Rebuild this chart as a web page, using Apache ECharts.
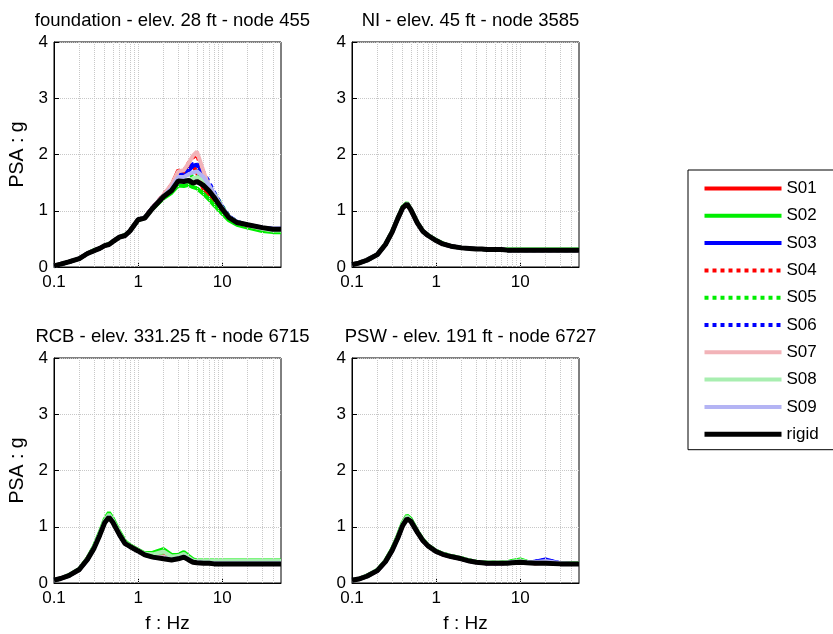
<!DOCTYPE html>
<html>
<head>
<meta charset="utf-8">
<script src="https://cdn.jsdelivr.net/npm/echarts@6/dist/echarts.min.js"></script>
<style>html,body{margin:0;padding:0;background:#fff}#c{width:833px;height:634px}</style>
</head>
<body>
<div id="c"></div>
<script>
// ---- data ----
const freqs = [0.1,0.12,0.15,0.2,0.25,0.3,0.35,0.4,0.45,0.5,0.6,0.7,0.8,1,1.2,1.5,2,2.5,3,3.5,4,4.5,5,6,7,8,10,12,15,20,30,40,50];
const gridFreqs = [0.2,0.3,0.4,0.5,0.6,0.7,0.8,0.9,1,2,3,4,5,6,7,8,9,10,20,30,40];
const seriesNames = ['S01','S02','S03','S04','S05','S06','S07','S08','S09','rigid'];
const panelTitles = ['foundation - elev. 28 ft - node 455','NI - elev. 45 ft - node 3585','RCB - elev. 331.25 ft - node 6715','PSW - elev. 191 ft - node 6727'];
const yTicks = [0,1,2,3,4];
const xTickLabels = ['0.1','1','10'];

// foundation
const fnd_S01 = [0.02,0.05,0.09,0.15,0.24,0.29,0.33,0.38,0.40,0.45,0.53,0.56,0.64,0.84,0.88,1.06,1.27,1.45,1.72,1.68,1.78,1.80,1.68,1.38,1.25,1.15,0.98,0.86,0.78,0.73,0.68,0.65,0.65];
const fnd_S02 = [0.02,0.05,0.09,0.15,0.24,0.30,0.33,0.38,0.41,0.45,0.53,0.57,0.64,0.83,0.88,1.04,1.22,1.32,1.45,1.44,1.46,1.42,1.40,1.30,1.20,1.10,0.95,0.83,0.75,0.70,0.64,0.62,0.62];
const fnd_S03 = [0.02,0.05,0.09,0.15,0.24,0.29,0.33,0.38,0.40,0.45,0.53,0.56,0.64,0.84,0.88,1.06,1.27,1.42,1.62,1.65,1.72,1.80,1.82,1.62,1.45,1.30,1.06,0.90,0.80,0.75,0.70,0.68,0.68];
const fnd_S04 = [0.02,0.05,0.09,0.15,0.24,0.29,0.33,0.38,0.40,0.45,0.53,0.56,0.64,0.84,0.88,1.06,1.28,1.46,1.70,1.70,1.85,1.95,2.00,1.65,1.40,1.25,1.02,0.88,0.79,0.74,0.69,0.66,0.66];
const fnd_S05 = [0.02,0.05,0.09,0.15,0.24,0.29,0.33,0.38,0.40,0.45,0.53,0.56,0.64,0.84,0.88,1.05,1.26,1.40,1.55,1.58,1.62,1.65,1.62,1.55,1.45,1.32,1.08,0.90,0.80,0.75,0.69,0.66,0.66];
const fnd_S06 = [0.02,0.05,0.09,0.15,0.24,0.29,0.33,0.38,0.40,0.45,0.53,0.56,0.64,0.84,0.88,1.06,1.27,1.43,1.65,1.66,1.75,1.83,1.84,1.68,1.50,1.33,1.07,0.90,0.80,0.75,0.70,0.67,0.67];
const fnd_S07 = [0.02,0.05,0.09,0.15,0.24,0.29,0.33,0.38,0.40,0.45,0.53,0.56,0.64,0.84,0.88,1.06,1.28,1.47,1.70,1.72,1.85,1.98,2.05,1.70,1.42,1.26,1.03,0.88,0.79,0.74,0.69,0.66,0.66];
const fnd_S08 = [0.02,0.05,0.09,0.15,0.24,0.29,0.33,0.38,0.40,0.45,0.53,0.56,0.64,0.84,0.88,1.05,1.25,1.38,1.55,1.53,1.55,1.57,1.60,1.55,1.42,1.30,1.05,0.89,0.79,0.74,0.68,0.65,0.65];
const fnd_S09 = [0.02,0.05,0.09,0.15,0.24,0.29,0.33,0.38,0.40,0.45,0.53,0.56,0.64,0.84,0.88,1.05,1.26,1.40,1.60,1.60,1.65,1.68,1.70,1.60,1.45,1.30,1.05,0.89,0.80,0.75,0.70,0.67,0.67];
const fnd_rigid = [0.02,0.05,0.09,0.15,0.24,0.29,0.33,0.38,0.40,0.45,0.53,0.56,0.64,0.84,0.87,1.05,1.25,1.36,1.53,1.52,1.54,1.49,1.52,1.45,1.35,1.24,1.03,0.88,0.79,0.75,0.70,0.67,0.67];

// NI
const ni_S01 = [0.04,0.07,0.12,0.22,0.40,0.62,0.86,1.05,1.12,1.02,0.78,0.63,0.56,0.47,0.41,0.37,0.34,0.33,0.32,0.32,0.31,0.31,0.31,0.31,0.30,0.30,0.30,0.30,0.30,0.30,0.30,0.30,0.30];
const ni_S02 = [0.04,0.07,0.12,0.22,0.41,0.63,0.87,1.07,1.14,1.03,0.79,0.64,0.57,0.48,0.42,0.37,0.34,0.33,0.32,0.32,0.31,0.31,0.31,0.31,0.31,0.31,0.31,0.31,0.31,0.31,0.31,0.31,0.31];
const ni_S03 = [0.04,0.07,0.12,0.22,0.40,0.62,0.86,1.05,1.12,1.02,0.78,0.63,0.56,0.47,0.41,0.37,0.34,0.33,0.32,0.32,0.31,0.31,0.31,0.31,0.30,0.30,0.30,0.30,0.30,0.30,0.30,0.30,0.30];
const ni_S04 = [0.04,0.07,0.12,0.22,0.40,0.62,0.86,1.05,1.12,1.02,0.78,0.63,0.56,0.47,0.41,0.37,0.34,0.33,0.32,0.32,0.31,0.31,0.31,0.31,0.30,0.30,0.30,0.30,0.30,0.30,0.30,0.30,0.30];
const ni_S05 = [0.04,0.07,0.12,0.22,0.40,0.62,0.86,1.06,1.13,1.02,0.78,0.63,0.56,0.47,0.41,0.37,0.34,0.33,0.32,0.32,0.31,0.31,0.31,0.31,0.30,0.30,0.30,0.30,0.30,0.30,0.30,0.30,0.30];
const ni_S06 = [0.04,0.07,0.12,0.22,0.40,0.62,0.86,1.05,1.12,1.02,0.78,0.63,0.56,0.47,0.41,0.37,0.34,0.33,0.32,0.32,0.31,0.31,0.31,0.31,0.30,0.30,0.30,0.30,0.30,0.30,0.30,0.30,0.30];
const ni_S07 = [0.04,0.07,0.12,0.22,0.40,0.62,0.86,1.05,1.12,1.02,0.78,0.63,0.56,0.47,0.41,0.37,0.34,0.33,0.32,0.32,0.31,0.31,0.31,0.31,0.30,0.30,0.30,0.30,0.30,0.30,0.30,0.30,0.30];
const ni_S08 = [0.04,0.07,0.12,0.22,0.40,0.62,0.87,1.06,1.13,1.03,0.79,0.63,0.56,0.47,0.41,0.37,0.34,0.33,0.32,0.32,0.31,0.31,0.31,0.31,0.30,0.30,0.30,0.30,0.30,0.30,0.30,0.30,0.30];
const ni_S09 = [0.04,0.07,0.12,0.22,0.40,0.62,0.86,1.05,1.12,1.02,0.78,0.63,0.56,0.47,0.41,0.37,0.34,0.33,0.32,0.32,0.31,0.31,0.31,0.31,0.30,0.30,0.30,0.30,0.30,0.30,0.30,0.30,0.30];
const ni_rigid = [0.04,0.07,0.12,0.22,0.40,0.62,0.86,1.05,1.12,1.02,0.78,0.63,0.56,0.47,0.41,0.37,0.34,0.33,0.32,0.32,0.31,0.31,0.31,0.31,0.30,0.30,0.30,0.30,0.30,0.30,0.30,0.30,0.30];

// RCB
const rcb_S01 = [0.05,0.08,0.13,0.24,0.43,0.64,0.87,1.09,1.19,1.10,0.87,0.71,0.66,0.58,0.51,0.48,0.52,0.44,0.46,0.50,0.44,0.39,0.38,0.37,0.37,0.37,0.37,0.37,0.37,0.37,0.37,0.37,0.37];
const rcb_S02 = [0.05,0.08,0.14,0.25,0.44,0.66,0.90,1.13,1.25,1.15,0.91,0.74,0.67,0.59,0.53,0.54,0.60,0.50,0.50,0.55,0.48,0.42,0.40,0.40,0.40,0.40,0.40,0.40,0.40,0.40,0.40,0.40,0.40];
const rcb_S03 = [0.05,0.08,0.13,0.24,0.42,0.63,0.86,1.08,1.18,1.09,0.86,0.70,0.65,0.57,0.50,0.46,0.44,0.42,0.45,0.48,0.42,0.38,0.37,0.36,0.36,0.35,0.35,0.35,0.35,0.35,0.35,0.35,0.35];
const rcb_S04 = [0.05,0.08,0.13,0.24,0.43,0.63,0.86,1.08,1.18,1.09,0.86,0.70,0.65,0.57,0.50,0.47,0.48,0.43,0.45,0.48,0.43,0.38,0.37,0.36,0.36,0.36,0.36,0.36,0.36,0.36,0.36,0.36,0.36];
const rcb_S05 = [0.05,0.08,0.13,0.24,0.43,0.64,0.88,1.10,1.21,1.11,0.88,0.72,0.66,0.58,0.51,0.50,0.54,0.46,0.47,0.51,0.45,0.40,0.39,0.38,0.38,0.38,0.38,0.38,0.38,0.38,0.38,0.38,0.38];
const rcb_S06 = [0.05,0.08,0.13,0.24,0.42,0.63,0.86,1.08,1.18,1.09,0.86,0.70,0.65,0.57,0.50,0.46,0.44,0.42,0.44,0.47,0.42,0.38,0.37,0.36,0.36,0.35,0.35,0.35,0.35,0.35,0.35,0.35,0.35];
const rcb_S07 = [0.05,0.08,0.13,0.24,0.42,0.63,0.86,1.08,1.18,1.09,0.86,0.70,0.65,0.57,0.50,0.47,0.47,0.43,0.45,0.47,0.42,0.38,0.37,0.36,0.36,0.36,0.36,0.36,0.36,0.36,0.36,0.36,0.36];
const rcb_S08 = [0.05,0.08,0.13,0.24,0.43,0.64,0.88,1.11,1.22,1.12,0.89,0.72,0.66,0.58,0.52,0.51,0.56,0.47,0.48,0.52,0.45,0.40,0.39,0.39,0.39,0.39,0.39,0.39,0.39,0.39,0.39,0.39,0.39];
const rcb_S09 = [0.05,0.08,0.13,0.24,0.42,0.63,0.86,1.08,1.18,1.09,0.86,0.70,0.65,0.57,0.50,0.46,0.45,0.42,0.44,0.47,0.42,0.38,0.37,0.36,0.36,0.35,0.35,0.35,0.35,0.35,0.35,0.35,0.35];
const rcb_rigid = [0.05,0.08,0.13,0.24,0.42,0.62,0.85,1.07,1.17,1.08,0.86,0.70,0.65,0.57,0.50,0.46,0.43,0.41,0.43,0.46,0.41,0.37,0.36,0.35,0.35,0.34,0.34,0.34,0.34,0.34,0.34,0.34,0.34];

// PSW
const psw_S01 = [0.05,0.07,0.12,0.22,0.39,0.59,0.81,1.04,1.16,1.11,0.90,0.75,0.66,0.56,0.51,0.47,0.43,0.39,0.37,0.36,0.35,0.35,0.35,0.35,0.36,0.37,0.39,0.37,0.35,0.36,0.34,0.34,0.34];
const psw_S02 = [0.05,0.07,0.13,0.23,0.40,0.61,0.84,1.07,1.20,1.14,0.92,0.77,0.67,0.57,0.52,0.48,0.44,0.40,0.38,0.37,0.36,0.36,0.36,0.36,0.37,0.39,0.42,0.38,0.36,0.36,0.35,0.35,0.35];
const psw_S03 = [0.05,0.07,0.12,0.22,0.38,0.58,0.80,1.03,1.15,1.10,0.90,0.75,0.66,0.56,0.51,0.47,0.43,0.39,0.37,0.36,0.35,0.35,0.35,0.35,0.36,0.37,0.39,0.37,0.38,0.42,0.35,0.34,0.34];
const psw_S04 = [0.05,0.07,0.12,0.22,0.38,0.58,0.81,1.03,1.15,1.10,0.90,0.75,0.66,0.56,0.51,0.47,0.43,0.39,0.37,0.36,0.35,0.35,0.35,0.35,0.36,0.37,0.38,0.37,0.36,0.38,0.35,0.34,0.34];
const psw_S05 = [0.05,0.07,0.12,0.23,0.39,0.60,0.83,1.06,1.18,1.12,0.91,0.76,0.67,0.57,0.52,0.48,0.44,0.40,0.38,0.37,0.36,0.36,0.36,0.36,0.37,0.38,0.41,0.38,0.36,0.36,0.35,0.35,0.35];
const psw_S06 = [0.05,0.07,0.12,0.22,0.38,0.58,0.80,1.03,1.15,1.10,0.90,0.75,0.66,0.56,0.51,0.47,0.43,0.39,0.37,0.36,0.35,0.35,0.35,0.35,0.36,0.37,0.39,0.37,0.38,0.41,0.35,0.34,0.34];
const psw_S07 = [0.05,0.07,0.12,0.22,0.38,0.58,0.81,1.03,1.15,1.10,0.90,0.75,0.66,0.56,0.51,0.47,0.43,0.39,0.37,0.36,0.35,0.35,0.35,0.35,0.36,0.37,0.38,0.37,0.36,0.37,0.35,0.34,0.34];
const psw_S08 = [0.05,0.07,0.12,0.23,0.39,0.60,0.83,1.06,1.18,1.12,0.91,0.76,0.67,0.57,0.52,0.48,0.44,0.40,0.38,0.37,0.36,0.36,0.36,0.36,0.37,0.38,0.40,0.38,0.36,0.36,0.35,0.35,0.35];
const psw_S09 = [0.05,0.07,0.12,0.22,0.38,0.58,0.80,1.03,1.15,1.10,0.90,0.75,0.66,0.56,0.51,0.47,0.43,0.39,0.37,0.36,0.35,0.35,0.35,0.35,0.36,0.37,0.38,0.37,0.37,0.39,0.35,0.34,0.34];
const psw_rigid = [0.05,0.07,0.12,0.22,0.38,0.58,0.80,1.02,1.14,1.10,0.90,0.75,0.66,0.56,0.51,0.47,0.43,0.39,0.37,0.36,0.35,0.35,0.35,0.35,0.35,0.36,0.37,0.36,0.35,0.35,0.34,0.34,0.34];

const panels = [
  [fnd_S01,fnd_S02,fnd_S03,fnd_S04,fnd_S05,fnd_S06,fnd_S07,fnd_S08,fnd_S09,fnd_rigid],
  [ni_S01,ni_S02,ni_S03,ni_S04,ni_S05,ni_S06,ni_S07,ni_S08,ni_S09,ni_rigid],
  [rcb_S01,rcb_S02,rcb_S03,rcb_S04,rcb_S05,rcb_S06,rcb_S07,rcb_S08,rcb_S09,rcb_rigid],
  [psw_S01,psw_S02,psw_S03,psw_S04,psw_S05,psw_S06,psw_S07,psw_S08,psw_S09,psw_rigid]
];

// ---- styles ----
const FONT = 'Liberation Sans, Arial, sans-serif';
const styles = [
  {color:'#ff0000', type:'solid', width:4},
  {color:'#00ee00', type:'solid', width:4},
  {color:'#0000ff', type:'solid', width:4},
  {color:'#ff0000', type:'dotted', width:4},
  {color:'#00ee00', type:'dotted', width:4},
  {color:'#0000ff', type:'dotted', width:4},
  {color:'#f2b3b8', type:'solid', width:4},
  {color:'#a8eeb0', type:'solid', width:4},
  {color:'#b4b4f4', type:'solid', width:4},
  {color:'#000000', type:'solid', width:5}
];
const grids = [
  {left:54, top:42, width:227, height:225},
  {left:352, top:42, width:227, height:225},
  {left:54, top:358, width:227, height:225},
  {left:352, top:358, width:227, height:225}
];
const titleTops = [6,6,322,322];

function isDecade(v){ const l = Math.log10(v); return Math.abs(l - Math.round(l)) < 1e-6; }

const option = {
  animation:false,
  backgroundColor:'#ffffff',
  textStyle:{fontFamily:FONT},
  title: panelTitles.map((t,i)=>({
    text:t, left: grids[i].left + grids[i].width/2, top:titleTops[i], textAlign:'center',
    textStyle:{fontSize:18.5, fontWeight:'normal', color:'#000', fontFamily:FONT}
  })),
  legend:{
    data: seriesNames.map((n,s)=>({name:n, lineStyle:{width:styles[s].width, type:styles[s].type, color:styles[s].color}})),
    orient:'vertical', left:688, top:170,
    itemWidth:77, itemHeight:14, itemGap:10.3,
    padding:[10,20,7,14],
    itemStyle:{opacity:0},
    borderColor:'#000', borderWidth:1, backgroundColor:'#fff',
    textStyle:{fontSize:17, color:'#000', fontFamily:FONT},
    selectedMode:false
  },
  grid: grids.map(g=>Object.assign({show:true, borderColor:'#000', borderWidth:1, backgroundColor:'#fff', containLabel:false}, g)),
  xAxis: grids.map((g,i)=>({
    type:'log', logBase:10, min:0.1, max:50, gridIndex:i,
    name: i>=2 ? 'f : Hz' : '', nameLocation:'middle', nameGap:31,
    nameTextStyle:{fontSize:19, color:'#000', fontFamily:FONT},
    axisLine:{show:true, lineStyle:{color:'#000', width:1}},
    axisTick:{show:true, inside:true, length:5, lineStyle:{color:'#000'}},
    axisLabel:{fontSize:17, color:'#000', margin:7, fontFamily:FONT, showMaxLabel:false,
      formatter:(v)=>{ if(!isDecade(v)) return ''; const s = String(+(+v).toPrecision(3)); return xTickLabels.indexOf(s) >= 0 ? s : ''; }},
    splitLine:{show:false}
  })),
  yAxis: grids.map((g,i)=>({
    type:'value', min:yTicks[0], max:yTicks[yTicks.length-1], interval:1, gridIndex:i,
    name: i%2===0 ? 'PSA : g' : '', nameLocation:'middle', nameGap:26, nameRotate:90,
    nameTextStyle:{fontSize:19.5, color:'#000', fontFamily:FONT},
    axisLine:{show:true, lineStyle:{color:'#000', width:1}},
    axisTick:{show:true, inside:true, length:5, lineStyle:{color:'#000'}},
    axisLabel:{fontSize:17, color:'#000', margin:6, fontFamily:FONT},
    splitLine:{show:true, lineStyle:{color:'#c8c8c8', type:'dotted', width:1}}
  })),
  series: []
};

for (let p = 0; p < 4; p++) {
  option.series.push({
    type:'line', name:'_grid'+p, xAxisIndex:p, yAxisIndex:p, data:[], silent:true, z:1,
    markLine:{silent:true, symbol:['none','none'], label:{show:false}, animation:false,
      lineStyle:{color:'#c8c8c8', type:'dotted', width:1},
      emphasis:{disabled:true},
      data: gridFreqs.map(f=>({xAxis:f}))}
  });
  for (let s = 0; s < 10; s++) {
    option.series.push({
      type:'line', name:seriesNames[s], xAxisIndex:p, yAxisIndex:p,
      showSymbol:false, symbol:'none', smooth:false, z:2+s,
      lineStyle:{color:styles[s].color, type:styles[s].type, width:styles[s].width},
      itemStyle:{color:styles[s].color},
      emphasis:{disabled:true},
      data: freqs.map((f,k)=>[f, panels[p][s][k]])
    });
  }
}

const chart = echarts.init(document.getElementById('c'), null, {renderer:'canvas'});
chart.setOption(option);
</script>
</body>
</html>
